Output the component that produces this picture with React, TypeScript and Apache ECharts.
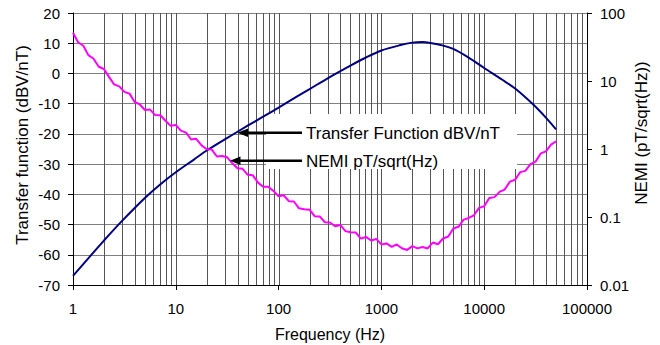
import React, { useEffect, useRef } from "react";
import * as echarts from "echarts";

// Transfer function (dBV/nT), left axis
const TF_FREQ = [1, 1.5, 2, 3, 5, 7, 10, 15, 20, 30, 50, 70, 100, 150, 200, 300, 500, 700, 1000, 1500, 2000, 2500, 3000, 4000, 5000, 7000, 10000, 15000, 20000, 30000, 40000, 50000];
const TF_DB = [-67, -60.1, -55.3, -48.8, -41.2, -36.8, -32.7, -28.5, -25.5, -21.8, -17.3, -14.4, -11.3, -7.7, -5.2, -1.6, 2.6, 5.2, 7.6, 9.3, 10.2, 10.4, 10.1, 9.2, 8.1, 5.3, 1.8, -2.1, -5.0, -10.3, -14.7, -18.5];

// NEMI (pT/sqrt(Hz)), right axis
const NEMI_FREQ = [
  1, 1.12, 1.26, 1.41, 1.58, 1.78, 2, 2.24, 2.51, 2.82, 3.16, 3.55, 3.98, 4.47, 5.01, 5.62, 6.31, 7.08, 7.94, 8.91,
  10, 11.2, 12.6, 14.1, 15.8, 17.8, 20, 22.4, 25.1, 28.2, 31.6, 35.5, 39.8, 44.7, 50.1, 56.2, 63.1, 70.8, 79.4, 89.1,
  100, 112, 126, 141, 158, 178, 200, 224, 251, 282, 316, 355, 398, 447, 501, 562, 631, 708, 794, 891,
  1000, 1120, 1260, 1410, 1580, 1780, 2000, 2240, 2510, 2820, 3160, 3550, 3980, 4470, 5010, 5620, 6310, 7080, 7940, 8910,
  10000, 11200, 12600, 14100, 15800, 17800, 20000, 22400, 25100, 28200, 31600, 35500, 39800, 44700, 50100,
];
const NEMI_VAL = [
  51.3, 37.1, 33.0, 24.0, 21.4, 16.2, 15.0, 11.5, 8.91, 8.35,
  6.93, 6.52, 4.91, 4.52, 3.75, 3.80, 3.15, 3.14, 2.60, 2.19,
  2.26, 1.86, 1.74, 1.38, 1.41, 1.13, 0.993, 0.980, 0.775, 0.791,
  0.755, 0.616, 0.520, 0.511, 0.417, 0.410, 0.320, 0.278, 0.279, 0.242,
  0.202, 0.209, 0.171, 0.169, 0.134, 0.130, 0.128, 0.103, 0.102, 0.0838,
  0.0830, 0.0732, 0.0765, 0.0620, 0.0597, 0.0593, 0.0481, 0.0509, 0.0452, 0.0476,
  0.0395, 0.0409, 0.0363, 0.0395, 0.0347, 0.0328, 0.0373, 0.0346, 0.0362, 0.0345,
  0.0421, 0.0397, 0.0483, 0.0516, 0.0679, 0.0717, 0.0916, 0.0967, 0.106, 0.136,
  0.144, 0.190, 0.196, 0.234, 0.253, 0.331, 0.353, 0.457, 0.477, 0.601,
  0.652, 0.861, 0.925, 1.16, 1.30,
];

// vertical log grid lines
const GRID_FREQ = [
  2, 3, 4, 5, 6, 7, 8, 9, 10, 20, 30, 40, 50, 60, 70, 80, 90, 100, 200, 300, 400, 500, 600, 700, 800, 900,
  1000, 2000, 3000, 4000, 5000, 6000, 7000, 8000, 9000, 10000, 20000, 30000, 40000, 50000, 60000, 70000, 80000, 90000,
];

const FONT = 'Arial, "Liberation Sans", sans-serif';
const fmt = (v: number) => String(+Number(v).toPrecision(3));

export default function App() {
  const ref = useRef<HTMLDivElement>(null);
  useEffect(() => {
    const chart = echarts.init(ref.current!, null, { renderer: "svg" });
    const option: any = {
      animation: false,
      backgroundColor: "#fff",
      grid: { left: 73, right: 73, top: 13, bottom: 60, containLabel: false, outerBoundsMode: "none" },
      xAxis: {
        type: "log",
        logBase: 10,
        min: 1,
        max: 100000,
        axisLine: { show: true, onZero: false, lineStyle: { color: "#000", width: 1 } },
        axisTick: { show: true, length: 5, lineStyle: { color: "#000" } },
        axisLabel: { margin: 16, fontSize: 15, color: "#000", fontFamily: FONT, formatter: fmt },
        splitLine: { show: false },
      },
      yAxis: [
        {
          type: "value",
          position: "left",
          min: -70,
          max: 20,
          interval: 10,
          axisLine: { show: true, onZero: false, lineStyle: { color: "#000", width: 1 } },
          axisTick: { show: true, length: 5, lineStyle: { color: "#000" } },
          axisLabel: { margin: 13, fontSize: 15, color: "#000", fontFamily: FONT },
          splitLine: { show: true, lineStyle: { color: "#808080", width: 1 } },
        },
        {
          type: "log",
          logBase: 10,
          position: "right",
          min: 0.01,
          max: 100,
          axisLine: { show: true, onZero: false, lineStyle: { color: "#000", width: 1 } },
          axisTick: { show: true, length: 5, lineStyle: { color: "#000" } },
          axisLabel: { margin: 13, fontSize: 15, color: "#000", fontFamily: FONT, formatter: fmt },
          splitLine: { show: false },
        },
      ],
      series: [
        {
          type: "custom",
          name: "vgrid",
          z: 1,
          silent: true,
          data: GRID_FREQ.map((f) => [f, -70]),
          encode: { x: 0, y: 1 },
          renderItem: (params: any, api: any) => {
            const f = api.value(0);
            const p1 = api.coord([f, 20]);
            const p2 = api.coord([f, -70]);
            const x = Math.round(p1[0]) + 0.5;
            return {
              type: "line",
              shape: { x1: x, y1: p1[1], x2: x, y2: p2[1] },
              style: { stroke: "#555555", lineWidth: 1 },
            };
          },
        },
        {
          type: "line",
          name: "Transfer Function dBV/nT",
          yAxisIndex: 0,
          z: 3,
          showSymbol: false,
          smooth: 0.3,
          data: TF_FREQ.map((f, i) => [f, TF_DB[i]]),
          lineStyle: { color: "#000080", width: 2 },
          itemStyle: { color: "#000080" },
        },
        {
          type: "line",
          name: "NEMI pT/sqrt(Hz)",
          yAxisIndex: 1,
          z: 3,
          showSymbol: false,
          data: NEMI_FREQ.map((f, i) => [f, NEMI_VAL[i]]),
          lineStyle: { color: "#ff00ff", width: 2 },
          itemStyle: { color: "#ff00ff" },
        },
      ],
      graphic: [
        { type: "rect", z: 2, shape: { x: 266, y: 114, width: 251, height: 55 }, style: { fill: "#fff" } },
        { type: "line", z: 4, shape: { x1: 302, y1: 132.8, x2: 246, y2: 132.8 }, style: { stroke: "#000", lineWidth: 2.5 } },
        { type: "polygon", z: 4, shape: { points: [[237.5, 132.8], [248, 128.6], [248, 137]] }, style: { fill: "#000" } },
        { type: "line", z: 4, shape: { x1: 302, y1: 160.7, x2: 239, y2: 160.7 }, style: { stroke: "#000", lineWidth: 2.5 } },
        { type: "polygon", z: 4, shape: { points: [[230, 160.7], [240.5, 156.5], [240.5, 164.9]] }, style: { fill: "#000" } },
        { type: "text", z: 4, x: 306, y: 133, style: { text: "Transfer Function dBV/nT", fontSize: 17, fontFamily: FONT, fill: "#000", align: "left", verticalAlign: "middle" } },
        { type: "text", z: 4, x: 306, y: 161, style: { text: "NEMI pT/sqrt(Hz)", fontSize: 17, fontFamily: FONT, fill: "#000", align: "left", verticalAlign: "middle" } },
        { type: "text", z: 4, x: 22, y: 145, rotation: Math.PI / 2, style: { text: "Transfer function (dBV/nT)", fontSize: 17, fontFamily: FONT, fill: "#000", align: "center", verticalAlign: "middle" } },
        { type: "text", z: 4, x: 641, y: 133, rotation: Math.PI / 2, style: { text: "NEMI (pT/sqrt(Hz))", fontSize: 17, fontFamily: FONT, fill: "#000", align: "center", verticalAlign: "middle" } },
        { type: "text", z: 4, x: 330, y: 334, style: { text: "Frequency (Hz)", fontSize: 16, fontFamily: FONT, fill: "#000", align: "center", verticalAlign: "middle" } },
      ],
    };
    chart.setOption(option);
    return () => chart.dispose();
  }, []);
  return (
    <div
      ref={ref}
      style={{ position: "absolute", left: 0, top: 0, width: 660, height: 345, background: "#fff" }}
    />
  );
}
